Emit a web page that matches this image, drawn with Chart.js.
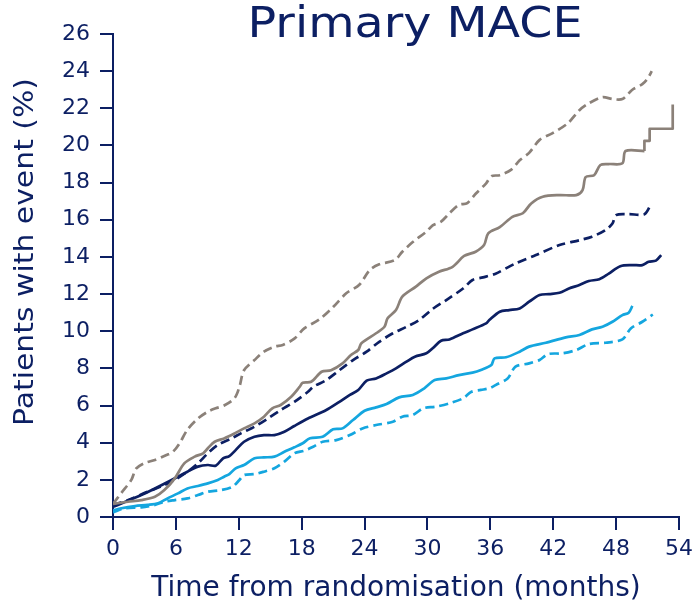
<!DOCTYPE html>
<html>
<head>
<meta charset="utf-8">
<script src="https://cdn.jsdelivr.net/npm/chart.js@4.4.1/dist/chart.umd.min.js"></script>
<style>
  html, body { margin: 0; padding: 0; background: #ffffff; }
  #wrap { width: 699px; height: 609px; }
</style>
</head>
<body>
<div id="wrap"><canvas id="c" width="699" height="609"></canvas></div>
<script>
// ---- Data (months, % with event) ----
const titleText = "Primary MACE";
const xTitle = "Time from randomisation (months)";
const yTitle = "Patients with event (%)";
const xTicks = [0, 6, 12, 18, 24, 30, 36, 42, 48, 54];
const yTicks = [0, 2, 4, 6, 8, 10, 12, 14, 16, 18, 20, 22, 24, 26];

const grayDashed = [[0,0.7],[0.8,1.3],[1.75,2.0],[2.2,2.6],[3.0,2.9],[4.0,3.07],[5.1,3.34],[5.7,3.5],[6.35,3.97],[7.1,4.7],[8.1,5.3],[9.05,5.67],[9.8,5.85],[10.6,6.0],[11.6,6.4],[12.06,7.0],[12.5,7.9],[13.5,8.45],[14.4,8.9],[15.4,9.17],[16.2,9.26],[17.3,9.6],[18.25,10.15],[19.7,10.64],[21.0,11.3],[22.25,12.04],[23.5,12.5],[24.5,13.3],[25.4,13.6],[26.9,13.83],[27.6,14.28],[28.6,14.8],[29.9,15.36],[30.5,15.7],[31.3,15.9],[32.1,16.35],[33.0,16.8],[33.8,16.9],[34.6,17.4],[35.6,17.96],[36.1,18.35],[36.9,18.4],[38.0,18.7],[38.8,19.2],[39.7,19.6],[40.7,20.3],[41.9,20.65],[43.4,21.2],[44.5,21.9],[45.4,22.27],[46.7,22.6],[47.65,22.5],[48.6,22.5],[49.55,23.0],[50.5,23.3],[51.0,23.6],[51.4,24.0]];

const graySolid = [[0,0.7],[1.43,0.82],[2.7,0.91],[4.0,1.09],[4.9,1.45],[5.9,2.08],[6.8,2.89],[7.8,3.25],[8.6,3.43],[9.05,3.7],[9.7,4.05],[10.6,4.23],[11.6,4.5],[12.5,4.77],[13.5,5.04],[14.4,5.4],[15.2,5.85],[16.0,6.03],[17.0,6.47],[17.8,7.0],[18.1,7.23],[18.9,7.28],[19.9,7.82],[20.8,7.9],[21.9,8.27],[22.7,8.72],[23.4,8.99],[23.7,9.35],[25.1,9.89],[25.9,10.24],[26.2,10.7],[27.0,11.14],[27.6,11.86],[28.9,12.4],[29.9,12.85],[31.1,13.2],[32.4,13.47],[33.5,14.05],[34.6,14.28],[35.4,14.64],[35.8,15.27],[36.9,15.6],[38.1,16.16],[39.1,16.35],[39.9,16.88],[41.0,17.24],[42.6,17.33],[44.2,17.33],[44.8,17.6],[45.1,18.3],[45.9,18.4],[46.5,18.95],[47.3,19.0],[48.6,19.04],[48.9,19.7],[50.7,19.7]];
const graySolidSteps = [[50.7,19.7],[50.7,20.25],[51.2,20.25],[51.2,20.9],[53.4,20.9],[53.4,22.2]];

const navyDashed = [[0,0.65],[1.4,0.9],[3.3,1.36],[4.9,1.72],[5.9,2.0],[7.1,2.44],[8.1,2.89],[9.05,3.43],[10.0,3.88],[11.3,4.23],[12.2,4.5],[13.5,4.86],[14.8,5.31],[16.0,5.76],[17.3,6.2],[18.6,6.74],[19.1,7.01],[20.35,7.37],[21.6,7.9],[22.9,8.45],[24.2,8.9],[25.4,9.43],[26.7,9.89],[28.0,10.24],[29.2,10.6],[30.5,11.2],[31.8,11.68],[33.4,12.3],[34.3,12.76],[35.3,12.9],[36.5,13.1],[38.4,13.65],[40.35,14.1],[42.6,14.64],[44.5,14.9],[45.7,15.09],[47.0,15.45],[47.65,15.8],[48.0,16.25],[49.2,16.3],[50.7,16.3],[51.3,16.8]];

const navySolid = [[0,0.55],[2.7,1.18],[6.2,2.17],[7.1,2.44],[8.1,2.71],[9.05,2.8],[9.8,2.76],[10.5,3.16],[11.1,3.28],[11.7,3.6],[12.5,4.05],[13.5,4.32],[14.4,4.41],[15.4,4.41],[16.35,4.59],[17.3,4.9],[18.6,5.3],[20.35,5.76],[21.6,6.2],[22.6,6.57],[23.4,6.84],[24.2,7.34],[25.1,7.46],[26.1,7.73],[27.0,8.0],[28.0,8.36],[28.8,8.63],[29.9,8.81],[30.5,9.08],[31.3,9.49],[32.1,9.56],[33.4,9.89],[34.3,10.1],[35.6,10.42],[35.9,10.6],[36.9,11.05],[37.8,11.14],[38.8,11.23],[39.7,11.59],[40.7,11.95],[41.6,12.0],[42.6,12.07],[43.5,12.3],[44.5,12.49],[45.4,12.7],[46.4,12.8],[47.3,13.1],[48.4,13.5],[49.55,13.56],[50.5,13.56],[51.1,13.74],[51.8,13.8],[52.3,14.1]];

const blueSolid = [[0,0.35],[0.8,0.47],[2.1,0.59],[3.3,0.65],[4.3,0.74],[5.2,1.0],[6.2,1.27],[7.1,1.54],[8.1,1.67],[9.05,1.81],[10.0,1.99],[10.6,2.17],[11.1,2.31],[11.7,2.62],[12.5,2.8],[13.5,3.16],[14.4,3.21],[15.4,3.25],[16.35,3.51],[17.3,3.75],[18.1,3.97],[18.8,4.24],[20.0,4.32],[21.0,4.72],[21.9,4.77],[22.9,5.22],[24.0,5.72],[25.1,5.9],[26.1,6.08],[27.3,6.44],[28.6,6.57],[29.7,6.93],[30.7,7.37],[31.8,7.46],[33.0,7.64],[34.3,7.77],[35.1,7.91],[36.1,8.18],[36.4,8.54],[37.5,8.6],[38.8,8.9],[39.7,9.17],[41.3,9.38],[43.2,9.67],[44.5,9.8],[45.7,10.1],[46.7,10.24],[47.65,10.51],[48.6,10.87],[49.2,11.0],[49.55,11.36]];

const blueDashed = [[0,0.25],[1.1,0.47],[2.7,0.52],[4.0,0.65],[4.9,0.82],[5.9,0.91],[7.1,1.0],[8.1,1.18],[9.05,1.36],[10.3,1.45],[11.4,1.63],[12.06,1.99],[12.5,2.26],[13.5,2.31],[14.4,2.44],[15.4,2.62],[16.35,2.98],[17.3,3.43],[18.25,3.57],[19.1,3.78],[20.0,4.05],[21.3,4.14],[22.6,4.41],[23.8,4.77],[25.1,4.95],[26.7,5.13],[27.6,5.4],[28.6,5.49],[29.6,5.85],[30.8,5.94],[32.1,6.12],[33.4,6.39],[34.2,6.74],[35.1,6.84],[35.9,6.93],[36.5,7.1],[37.65,7.46],[38.4,8.09],[39.7,8.27],[40.7,8.45],[41.5,8.77],[42.9,8.81],[44.2,8.99],[45.4,9.31],[47.0,9.38],[48.6,9.56],[49.4,10.15],[50.5,10.51],[51.5,10.9]];

// ---- Styles ----
const NAVY = "#0c1f63";
const GRAY = "#8b8179";
const BLUE = "#14a6df";
const FONT = "'DejaVu Sans', Verdana, sans-serif";
const DASH = [9, 5];

const pts = a => a.map(p => ({x: p[0], y: p[1]}));
function ds(data, color, dashed, tension) {
  return {
    data: pts(data), borderColor: color, borderWidth: 2.7,
    borderDash: dashed ? DASH : [], tension: tension,
    pointRadius: 0, fill: false, borderCapStyle: 'butt', borderJoinStyle: 'round'
  };
}

const titlePlugin = {
  id: 'titles',
  afterDraw(chart) {
    const ctx = chart.ctx;
    ctx.save();
    ctx.fillStyle = NAVY;
    ctx.font = "43px " + FONT;
    ctx.textAlign = "center";
    ctx.textBaseline = "alphabetic";
    let w = ctx.measureText(titleText).width;
    ctx.translate(415, 37);
    ctx.scale(335 / w, 1);
    ctx.fillText(titleText, 0, 0);
    ctx.restore();
    ctx.save();
    ctx.fillStyle = NAVY;
    ctx.font = "27px " + FONT;
    ctx.textAlign = "center";
    ctx.textBaseline = "middle";
    w = ctx.measureText(yTitle).width;
    ctx.translate(26, 252);
    ctx.rotate(-Math.PI / 2);
    ctx.scale(348 / w, 1);
    ctx.fillText(yTitle, 0, 0);
    ctx.restore();
  }
};

new Chart(document.getElementById('c'), {
  type: 'line',
  data: {
    datasets: [
      ds(grayDashed, GRAY, true, 0.3),
      ds(graySolid, GRAY, false, 0.3),
      ds(graySolidSteps, GRAY, false, 0),
      ds(navyDashed, NAVY, true, 0.3),
      ds(navySolid, NAVY, false, 0.3),
      ds(blueSolid, BLUE, false, 0.3),
      ds(blueDashed, BLUE, true, 0.3)
    ]
  },
  options: {
    responsive: false,
    animation: false,
    layout: { padding: { top: 34, right: 19, left: 0, bottom: 0 } },
    plugins: { legend: { display: false }, tooltip: { enabled: false }, title: { display: false } },
    scales: {
      x: {
        type: 'linear', min: 0, max: 54,
        afterBuildTicks: s => { s.ticks = xTicks.map(v => ({value: v})); },
        ticks: { color: NAVY, font: { family: FONT, size: 22 }, padding: 6, maxRotation: 0, autoSkip: false },
        grid: { drawOnChartArea: false, drawTicks: true, tickLength: 13, color: NAVY, lineWidth: 2 },
        border: { display: true, color: NAVY, width: 2 },
        title: { display: true, text: xTitle, color: NAVY, font: { family: FONT, size: 28 }, padding: { top: 0, bottom: 3 } },
        afterFit: s => { s.height = 92; }
      },
      y: {
        type: 'linear', min: 0, max: 26,
        afterBuildTicks: s => { s.ticks = yTicks.map(v => ({value: v})); },
        ticks: { color: NAVY, font: { family: FONT, size: 22 }, padding: 10, autoSkip: false },
        grid: { drawOnChartArea: false, drawTicks: true, tickLength: 13, color: NAVY, lineWidth: 2 },
        border: { display: true, color: NAVY, width: 2 },
        afterFit: s => { s.width = 113; }
      }
    }
  },
  plugins: [titlePlugin]
});
</script>
</body>
</html>
